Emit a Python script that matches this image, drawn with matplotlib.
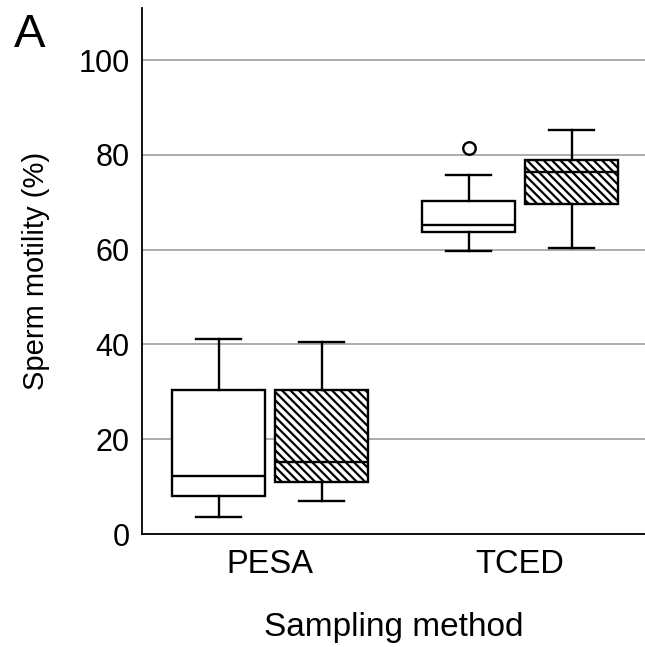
import matplotlib
matplotlib.use("Agg")
import matplotlib.pyplot as plt

plt.rcParams['font.family'] = ['Liberation Sans', 'DejaVu Sans']
plt.rcParams['hatch.linewidth'] = 1.6

categories = ["PESA", "TCED"]
# stats per box: [whislo, q1, med, q3, whishi]
white_stats = [[3.6, 8.0, 12.2, 30.4, 41.1], [59.7, 63.7, 65.2, 70.3, 75.7]]
hatch_stats = [[7.0, 11.0, 15.2, 30.4, 40.5], [60.3, 69.6, 76.4, 78.9, 85.2]]
white_fliers = [[], [81.4]]
hatch_fliers = [[], []]
yticks = [0, 20, 40, 60, 80, 100]

fig = plt.figure(figsize=(6.45, 6.47), dpi=100)
ax = fig.add_axes([142/645, 113/647, 1 - 142/645, (534-8)/647])

def mk(stats, fliers):
    out = []
    for s, f in zip(stats, fliers):
        out.append(dict(whislo=s[0], q1=s[1], med=s[2], q3=s[3], whishi=s[4], fliers=f))
    return out

off = 0.206
w = 0.372
lw = 1.7
common = dict(widths=w, patch_artist=True, showfliers=True,
              boxprops=dict(linewidth=lw, edgecolor='black'),
              medianprops=dict(color='black', linewidth=lw),
              whiskerprops=dict(color='black', linewidth=lw),
              capprops=dict(color='black', linewidth=lw),
              flierprops=dict(marker='o', markerfacecolor='white', markeredgecolor='black',
                              markersize=9, markeredgewidth=1.7),
              capwidths=0.18, zorder=3)
b1 = ax.bxp(mk(white_stats, white_fliers), positions=[i - off for i in range(len(categories))], **common)
b2 = ax.bxp(mk(hatch_stats, hatch_fliers), positions=[i + off for i in range(len(categories))], **common)
for p in b1['boxes']:
    p.set_facecolor('white')
for p in b2['boxes']:
    p.set_facecolor('white')
    p.set_hatch('\\\\\\\\')

ax.set_xlim(-0.512, 1.5)
ax.set_ylim(0, 111)
ax.set_yticks(yticks)
ax.set_xticks(range(len(categories)))
ax.set_xticklabels(categories)
ax.yaxis.grid(True, color='#a6a6a6', linewidth=1.3, zorder=0)
ax.set_axisbelow(True)
ax.tick_params(axis='y', length=0, labelsize=22, pad=9)
ax.tick_params(axis='x', length=0, labelsize=23.5, pad=11)
for s in ['top', 'right']:
    ax.spines[s].set_visible(False)
for s in ['left', 'bottom']:
    ax.spines[s].set_linewidth(1.3)
ax.set_ylabel('Sperm motility (%)', fontsize=21, labelpad=20)
ax.set_xlabel('Sampling method', fontsize=24, labelpad=23)
fig.text(14/645, 1 - 47/647, 'A', fontsize=34, va='baseline', ha='left')

fig.savefig('out.png', dpi=100)
